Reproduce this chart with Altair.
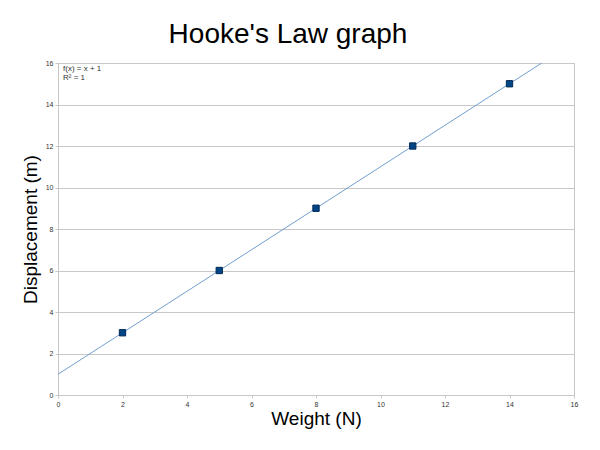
import altair as alt
import pandas as pd

weight = [2, 5, 8, 11, 14]
displacement = [3, 6, 9, 12, 15]
eq_lines = ["f(x) = x + 1", "R² = 1"]

df = pd.DataFrame({"x": weight, "y": displacement})

xs = alt.Scale(domain=[0, 16], nice=False)
ys = alt.Scale(domain=[0, 16], nice=False)

base = alt.Chart(df)

line = base.transform_regression("x", "y", extent=[0, 15]).mark_line(
    color="#729fcf", strokeWidth=1, clip=True
).encode(
    x=alt.X("x:Q", scale=xs, title="Weight (N)",
            axis=alt.Axis(values=list(range(0, 17, 2)), grid=False)),
    y=alt.Y("y:Q", scale=ys, title="Displacement (m)",
            axis=alt.Axis(values=list(range(0, 17, 2)), grid=True)),
)

pts = base.mark_square(size=40, color="#004586", stroke="#002a55", strokeWidth=1, opacity=1).encode(
    x="x:Q", y="y:Q"
)

ann_layers = []
for i, t in enumerate(eq_lines):
    ann_layers.append(
        alt.Chart(pd.DataFrame({"t": [t]})).mark_text(
            align="left", baseline="top", fontSize=8, font="Liberation Sans", color="#333333"
        ).encode(x=alt.value(5), y=alt.value(2 + 9 * i), text="t:N")
    )

chart = alt.layer(line, pts, *ann_layers).properties(
    width=516, height=332,
    title=alt.TitleParams("Hooke's Law graph", fontSize=28, font="Liberation Sans",
                          fontWeight="normal", color="#000000", offset=10, dx=-28),
    autosize=alt.AutoSizeParams(type="none"),
    padding={"left": 58, "top": 63, "right": 26, "bottom": 55},
).configure_view(stroke="#c8c8c8", strokeWidth=1).configure_axis(
    labelFont="Liberation Sans", labelFontSize=7, labelColor="#333333",
    titleFont="Liberation Sans", titleFontSize=19, titleFontWeight="normal", titleColor="#000000",
    domainColor="#c8c8c8", tickColor="#c8c8c8", gridColor="#c8c8c8",
    tickSize=3, labelPadding=2, labelFlush=False,
).configure_axisX(titlePadding=2).configure_axisY(titlePadding=5)

chart.save("out.html", embed_options={"renderer": "svg", "actions": False})
